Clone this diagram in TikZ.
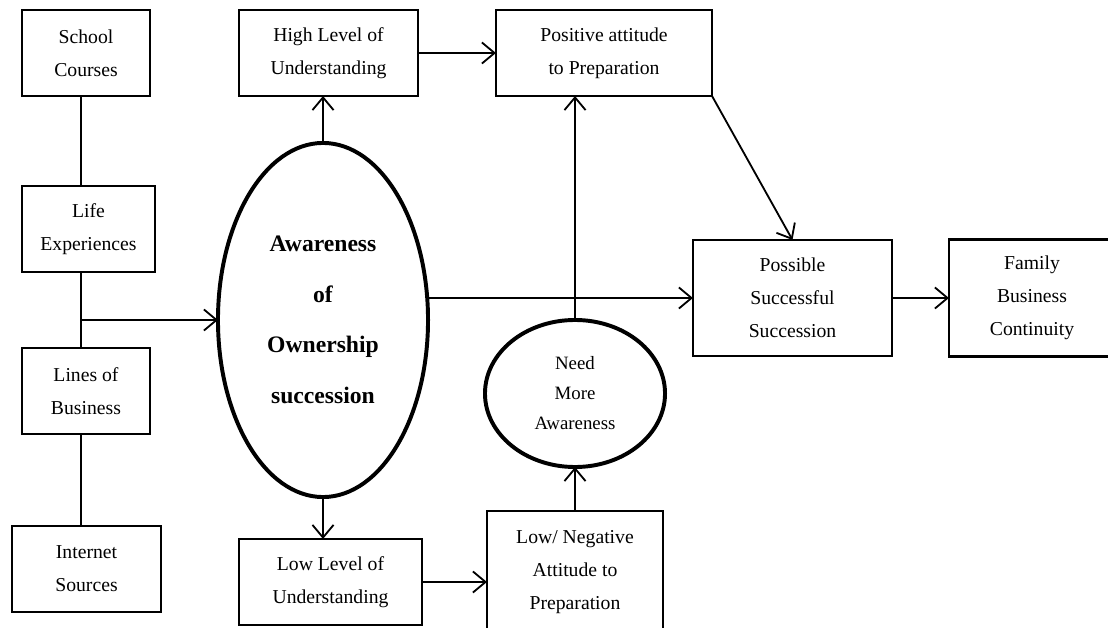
\documentclass[tikz,border=0pt]{standalone}
\usepackage{fontspec}
\setmainfont{Liberation Serif}
\usepackage{tikz}
\usetikzlibrary{shapes.geometric,arrows.meta}

\begin{document}
\begin{tikzpicture}[
        x=0.025cm, y=-0.025cm,
        box/.style = {draw, line width=1.5pt, align=center, outer sep=0pt, inner sep=2pt,
                      minimum height=2.15cm, font=\fontsize{14}{23.4}\selectfont},
        oval/.style = {ellipse, draw, line width=2.8pt, align=center, outer sep=0pt, inner sep=0pt},
        link/.style = {line width=1.3pt},
        >={Straight Barb[length=9pt,width=15pt,line width=1.3pt]}
        ]
        \useasboundingbox (0,0) rectangle (1108,628);

        % sources
        \node (School)   at (86,53)    [box, minimum width=3.2cm]   {School\\Courses};
        \node (Life)     at (88.5,229) [box, minimum width=3.325cm] {Life\\Experiences};
        \node (Lines)    at (86,391)   [box, minimum width=3.2cm]   {Lines of\\Business};
        \node (Internet) at (86.5,569) [box, minimum width=3.725cm] {Internet\\Sources};
        \coordinate (spine) at (81,320);

        % awareness
        \node (Aware) at (323,320) [oval, minimum width=5.25cm, minimum height=8.85cm,
                font=\bfseries\fontsize{16.8}{36}\selectfont] {Awareness\\of\\Ownership\\succession};
        \node (High) at (328.5,53) [box, minimum width=4.475cm] {High Level of\\Understanding};
        \node (Low)  at (330.5,582) [box, minimum width=4.575cm] {Low Level of\\Understanding};

        % attitude
        \node (Positive) at (604,53)    [box, minimum width=5.4cm] {Positive attitude\\to Preparation};
        \node (LowNeg)   at (575,572) [box, minimum width=4.4cm, minimum height=3.05cm] {Low/ Negative\\Attitude to\\Preparation};
        \node (Need) at (575,393.5) [oval, minimum width=4.5cm, minimum height=3.675cm,
                font=\fontsize{13.4}{21.3}\selectfont] {Need\\More\\Awareness};

        % outcome
        \node (Possible) at (792.5,298) [box, minimum width=4.975cm, minimum height=2.9cm] {Possible\\Successful\\Succession};
        \node (Family)   at (1032,298) [box, minimum width=4.15cm, minimum height=2.925cm] {Family\\Business\\Continuity};

        \draw[link] (School.south -| spine) -- (Life.north -| spine);
        \draw[link] (Life.south -| spine) -- (Lines.north -| spine);
        \draw[link] (Lines.south -| spine) -- (Internet.north -| spine);
        \draw[link, ->] (spine) -- (Aware.west);

        \draw[link, ->] (Aware.north) -- (High.south -| Aware.north);
        \draw[link, ->] (Aware.south) -- (Low.north -| Aware.south);
        \draw[link, ->] (High.east) -- (Positive.west);
        \draw[link, ->] (Low.east) -- (Low.east -| LowNeg.west);
        \draw[link, ->] (LowNeg.north) -- (Need.south);
        \draw[link, ->] (Need.north) -- (Positive.south -| Need.north);
        \draw[link, ->] (Possible.west -| Aware.east) -- (Possible.west);
        \draw[link, ->] (Positive.south east) -- (Possible.north);
        \draw[link, ->] (Possible.east) -- (Family.west);
\end{tikzpicture}
\end{document}
